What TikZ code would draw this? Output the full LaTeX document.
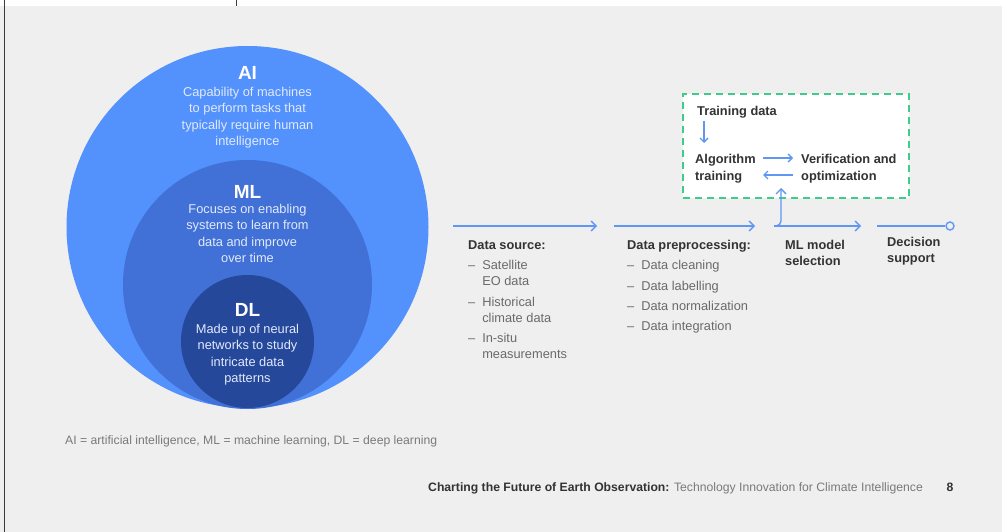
\documentclass[tikz,border=0pt]{standalone}
\usepackage{fontspec}
\setmainfont{Liberation Sans}
\usetikzlibrary{arrows.meta}
\definecolor{bg}{HTML}{EFEFEF}
\definecolor{aiblue}{HTML}{5391FC}
\definecolor{mlblue}{HTML}{4170D6}
\definecolor{dlblue}{HTML}{25489A}
\definecolor{flow}{HTML}{6096F4}
\definecolor{greendash}{HTML}{3DCC8C}
\definecolor{headtxt}{HTML}{333333}
\definecolor{itemtxt}{HTML}{6A6A6A}
\definecolor{circtxt}{HTML}{E2EAFC}
\definecolor{captxt}{HTML}{7A7A7A}
\definecolor{edge}{HTML}{3A3A3A}
\begin{document}
\begin{tikzpicture}[x=1pt,y=-1pt,
  venn/.style={circle,inner sep=0,draw=none},
  circtitle/.style={text=white,font=\fontsize{19}{21}\selectfont\bfseries,anchor=center,inner sep=0},
  circbody/.style={text=circtxt,font=\fontsize{12.8}{16.5}\selectfont,align=center,anchor=north,inner sep=0},
  heading/.style={text=headtxt,font=\fontsize{12.8}{16}\selectfont\bfseries,anchor=base west,inner sep=0,align=left},
  items/.style={text=itemtxt,font=\fontsize{12.8}{16}\selectfont,anchor=north west,inner sep=0},
  flowline/.style={draw=flow,line width=1.4pt},
  flowarrow/.style={flowline,-{Straight Barb[length=5pt,width=10pt,line width=1.4pt]}},
  smallarrow/.style={flowline,-{Straight Barb[length=4pt,width=8pt,line width=1.3pt]}},
  ]
\useasboundingbox (0,0) rectangle (1002,532);
\fill[bg] (0,0) rectangle (1002,532);
\fill[white] (0,0) rectangle (1002,6);
\draw[edge,line width=1.5pt] (4.5,0) -- (4.5,532);
\draw[edge,line width=1pt] (236,0) -- (236,6);

% Venn circles
\node[venn,fill=aiblue,minimum size=362] (ai) at (247.5,227) {};
\node[venn,fill=mlblue,minimum size=249] (ml) at (247.5,284.5) {};
\node[venn,fill=dlblue,minimum size=133] (dl) at (247.5,341.5) {};

\node[circtitle] (aititle) at (247.5,73) {AI};
\node[circbody] (aibody) at (247.5,86.8) {Capability of machines\\to perform tasks that\\typically require human\\intelligence};
\node[circtitle] (mltitle) at (247.5,192) {ML};
\node[circbody] (mlbody) at (247.5,203.8) {Focuses on enabling\\systems to learn from\\data and improve\\over time};
\node[circtitle] (dltitle) at (247.5,310) {DL};
\node[circbody] (dlbody) at (247.5,323.8) {Made up of neural\\networks to study\\intricate data\\patterns};

\node[text=captxt,font=\fontsize{12.2}{14}\selectfont,anchor=base west,inner sep=0] (caption) at (65,444)
  {AI = artificial intelligence, ML = machine learning, DL = deep learning};

% Flow
\coordinate (f1s) at (453,226); \coordinate (f1e) at (597,226);
\coordinate (f2s) at (614,226); \coordinate (f2e) at (755,226);
\coordinate (f3s) at (774,226); \coordinate (f3e) at (861,226);
\coordinate (f4s) at (877,226);
\coordinate (up) at (781,188);
\draw[flowarrow] (f1s) -- (f1e);
\draw[flowarrow] (f2s) -- (f2e);
\draw[flowarrow] (f3s) -- (f3e);
\node[circle,draw=flow,line width=1.4pt,fill=bg,minimum size=8,inner sep=0] (endpt) at (950,226) {};
\draw[flowline] (f4s) -- (endpt.west);

\node[heading] (dshead) at (468,249.5) {Data source:};
\node[items] (dsitems) at (468,258.3) {%
  \renewcommand{\arraystretch}{1}%
  \begin{tabular}{@{}l@{\hspace{7pt}}l@{}}
  -- & Satellite\\ & EO data\\[4.5pt]
  -- & Historical\\ & climate data\\[4.5pt]
  -- & In-situ\\ & measurements
  \end{tabular}};

\node[heading] (dphead) at (627,249.5) {Data preprocessing:};
\node[items] (dpitems) at (627,258.3) {%
  \renewcommand{\arraystretch}{1}%
  \begin{tabular}{@{}l@{\hspace{7pt}}l@{}}
  -- & Data cleaning\\[4.3pt]
  -- & Data labelling\\[4.3pt]
  -- & Data normalization\\[4.3pt]
  -- & Data integration
  \end{tabular}};

% two-line nodes: base anchor is the baseline of the last line
\node[heading] (mlsel) at (785,265) {ML model\\selection};
\node[heading] (decis) at (887,262.5) {Decision\\support};

% Dashed training box
\node[draw=greendash,fill=white,dash pattern=on 7pt off 5pt,line width=1.5pt,
      minimum width=226,minimum height=104,inner sep=0] (tbox) at (796,146) {};
\draw[flowarrow,rounded corners=5pt] (f3s) -| (up);
\node[heading,font=\fontsize{12.8}{17}\selectfont\bfseries] (tdata) at (697,115.5) {Training data};
\node[heading,font=\fontsize{12.8}{17}\selectfont\bfseries] (algo) at (695,180.5) {Algorithm\\training};
\node[heading,font=\fontsize{12.8}{17}\selectfont\bfseries] (verif) at (801,180.5) {Verification and\\optimization};
\coordinate (d1) at (704,121); \coordinate (d2) at (704,143);
\draw[smallarrow] (d1) -- (d2);
\coordinate (r1) at (763,158); \coordinate (r2) at (793,158);
\draw[smallarrow] (r1) -- (r2);
\coordinate (l1) at (793,175); \coordinate (l2) at (763,175);
\draw[smallarrow] (l1) -- (l2);

% Footer
\node[anchor=base west,inner sep=0,font=\fontsize{12.2}{14}\selectfont] (footer) at (428,491.5)
  {\textcolor{headtxt}{\bfseries Charting the Future of Earth Observation:} \textcolor{captxt}{Technology Innovation for Climate Intelligence}};
\node[anchor=base,inner sep=0,font=\fontsize{12.2}{14}\selectfont\bfseries,text=headtxt] (pagenum) at (950,491.5) {8};
\end{tikzpicture}
\end{document}
